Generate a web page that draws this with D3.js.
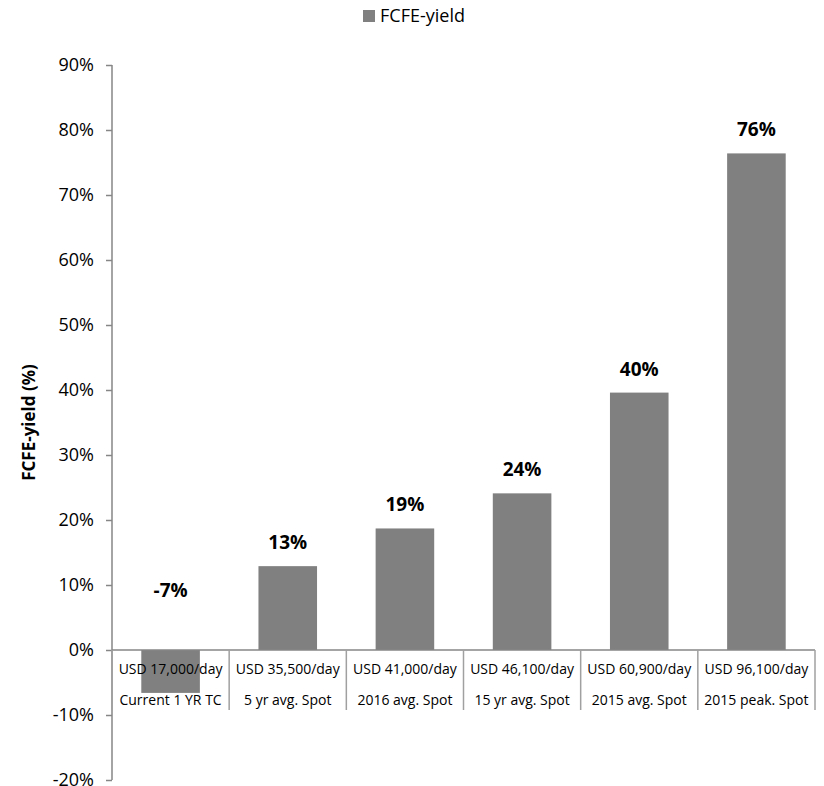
<html>
<head><meta charset="utf-8"></head>
<script src='https://d3js.org/d3.v7.min.js'></script>
<style>
body {margin:0; background:#fff;}
text {font-family: 'Open Sans', 'Noto Sans', sans-serif;}
</style>
<body onload='init()'>
<svg width=824 height=786></svg>
<script>
const prices = ['USD 17,000/day','USD 35,500/day','USD 41,000/day','USD 46,100/day','USD 60,900/day','USD 96,100/day'];
const scenarios = ['Current 1 YR TC','5 yr avg. Spot','2016 avg. Spot','15 yr avg. Spot','2015 avg. Spot','2015 peak. Spot'];
const fcfeYield = [-6.6, 12.9, 18.7, 24.1, 39.6, 76.4];
const yTicks = [-20,-10,0,10,20,30,40,50,60,70,80,90];

function init() {
const svg = d3.select('svg');
const left = 112, right = 815, top = 65, bottom = 780;

var x = d3.scaleBand().domain(d3.range(6)).range([left,right]).paddingInner(0.5).paddingOuter(0.25);
var xs = d3.scaleBand().domain(d3.range(6)).range([left,right]);
var y = d3.scaleLinear().domain([-20,90]).range([bottom,top]);

// bars
svg.append('g').selectAll('rect')
  .data(fcfeYield)
  .enter()
  .append('rect')
    .attr('x',(d,i) => x(i))
    .attr('width',x.bandwidth())
    .attr('y',d => y(Math.max(d,0)))
    .attr('height',d => Math.abs(y(d)-y(0)))
    .attr('fill','#808080');

// value labels
svg.append('g').selectAll('text')
  .data(fcfeYield)
  .enter()
  .append('text')
    .attr('x',(d,i) => x(i)+x.bandwidth()/2)
    .attr('y',d => d >= 0 ? y(d)-17 : y(0)-53)
    .attr('text-anchor','middle')
    .attr('font-size',19)
    .attr('font-weight','bold')
    .text(d => (d < 0 ? '-' : '') + Math.round(Math.abs(d)) + '%');

// y axis
var yAxis = d3.axisLeft(y).tickValues(yTicks).tickSize(6).tickPadding(12).tickFormat(d => (d < 0 ? '-' + (-d) : d) + '%');
var ga = svg.append('g').attr('transform','translate('+left+',0)').call(yAxis);
ga.select('.domain').attr('stroke','#868686').attr('stroke-width',1.5).attr('d','M0,'+top+'V'+bottom);
ga.selectAll('.tick line').attr('stroke','#868686').attr('stroke-width',1.5);
ga.selectAll('.tick text').attr('font-size',18).attr('fill','#000').attr('font-family',"'Open Sans', sans-serif");

// zero line
svg.append('line').attr('x1',left).attr('x2',right).attr('y1',y(0)).attr('y2',y(0))
  .attr('stroke','#868686').attr('stroke-width',1.5);

// category table dividers
svg.append('g').selectAll('line')
  .data(d3.range(7))
  .enter()
  .append('line')
    .attr('x1',d => left + d*xs.step())
    .attr('x2',d => left + d*xs.step())
    .attr('y1',y(0))
    .attr('y2',y(0)+60)
    .attr('stroke','#a0a0a0')
    .attr('stroke-width',1.5);

svg.append('g').selectAll('text')
  .data(prices)
  .enter()
  .append('text')
    .attr('x',(d,i) => xs(i)+xs.bandwidth()/2)
    .attr('y',y(0)+24)
    .attr('text-anchor','middle')
    .attr('font-size',14)
    .text(d => d);

svg.append('g').selectAll('text')
  .data(scenarios)
  .enter()
  .append('text')
    .attr('x',(d,i) => xs(i)+xs.bandwidth()/2)
    .attr('y',y(0)+55)
    .attr('text-anchor','middle')
    .attr('font-size',14)
    .text(d => d);

// y title
svg.append('text')
  .attr('transform','translate(35,'+((top+bottom)/2)+') rotate(-90)')
  .attr('text-anchor','middle')
  .attr('font-size',17)
  .attr('font-weight','bold')
  .text('FCFE-yield (%)');

// legend
svg.append('rect').attr('x',363).attr('y',10).attr('width',12).attr('height',12).attr('fill','#808080');
svg.append('text').attr('x',380).attr('y',22).attr('font-size',18).text('FCFE-yield');
}
</script>
</body>
</html>
